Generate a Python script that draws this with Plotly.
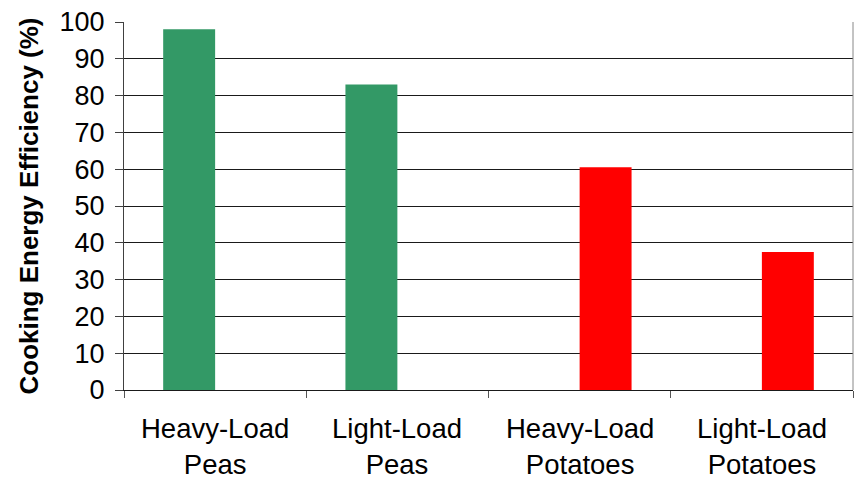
import plotly.graph_objects as go

# Cooking energy efficiency by test condition
categories = ["Heavy-Load<br>Peas", "Light-Load<br>Peas",
              "Heavy-Load<br>Potatoes", "Light-Load<br>Potatoes"]
peas_values = [98, 83, None, None]
potato_values = [None, None, 60.5, 37.5]
y_ticks = list(range(0, 101, 10))

FONT = "Arial, Liberation Sans, sans-serif"

fig = go.Figure()
fig.add_trace(go.Bar(x=categories, y=peas_values, name="Peas",
                     marker=dict(color="#339966", line=dict(width=0))))
fig.add_trace(go.Bar(x=categories, y=potato_values, name="Potatoes",
                     marker=dict(color="#FF0000", line=dict(width=0))))

fig.update_layout(
    width=854, height=480,
    margin=dict(l=124, r=1, t=22, b=90),
    paper_bgcolor="white", plot_bgcolor="white",
    barmode="group", bargap=0.43, bargroupgap=0,
    showlegend=False,
    font=dict(family=FONT, color="black"),
)

# category boundaries carry the tick marks; labels are drawn as annotations
fig.update_xaxes(
    showline=True, linecolor="#1a1a1a", linewidth=1,
    ticks="outside", ticklen=7, tickcolor="#555555",
    tickmode="array", tickvals=[-0.5, 0.5, 1.5, 2.5, 3.5], ticktext=[""] * 5,
    showgrid=False, range=[-0.5, 3.5],
)

fig.update_yaxes(
    range=[0, 100], tickvals=y_ticks,
    showline=True, linecolor="#404040", linewidth=1,
    ticks="outside", ticklen=8, tickcolor="#404040",
    showgrid=True, gridcolor="#1a1a1a", gridwidth=1,
    zeroline=False,
    tickfont=dict(size=27, family=FONT, color="black"),
    ticklabelstandoff=5,
    title=dict(text="<b>Cooking Energy Efficiency (%)</b>",
               font=dict(size=26, family=FONT, color="black"),
               standoff=13),
)

# plot-area right border
fig.add_shape(type="line", xref="paper", yref="paper",
              x0=1, x1=1, y0=0, y1=1,
              line=dict(color="#888888", width=1))

# category labels below the axis
for i, label in enumerate(categories):
    fig.add_annotation(x=i, y=0, xref="x", yref="paper",
                       text=label, showarrow=False,
                       yanchor="top", yshift=-21,
                       font=dict(size=27.5, family=FONT, color="black"))

fig.write_html("out.html")
